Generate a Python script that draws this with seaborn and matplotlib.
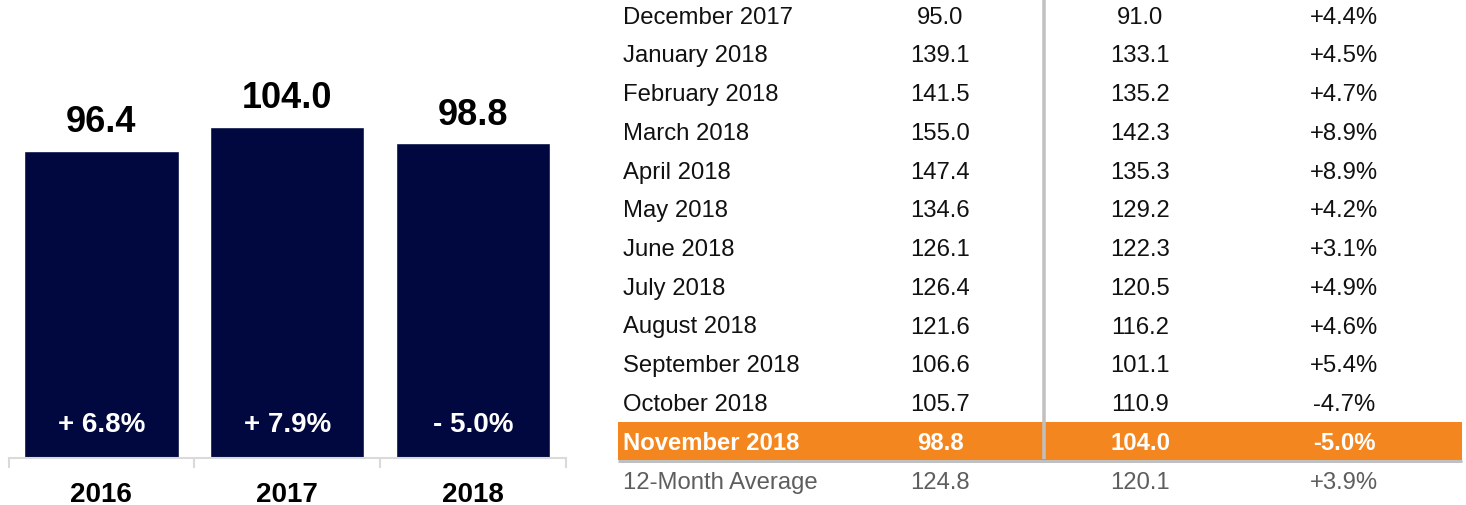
import matplotlib
matplotlib.use("Agg")
import matplotlib.pyplot as plt
import seaborn as sns
import pandas as pd
from matplotlib.patches import Rectangle

# ---- data ----
years = ["2016", "2017", "2018"]
values = [96.4, 104.0, 98.8]
changes = ["+ 6.8%", "+ 7.9%", "- 5.0%"]

months = ["December 2017", "January 2018", "February 2018", "March 2018",
          "April 2018", "May 2018", "June 2018", "July 2018", "August 2018",
          "September 2018", "October 2018", "November 2018"]
current = [95.0, 139.1, 141.5, 155.0, 147.4, 134.6, 126.1, 126.4, 121.6, 106.6, 105.7, 98.8]
previous = [91.0, 133.1, 135.2, 142.3, 135.3, 129.2, 122.3, 120.5, 116.2, 101.1, 110.9, 104.0]
pct = ["+4.4%", "+4.5%", "+4.7%", "+8.9%", "+8.9%", "+4.2%", "+3.1%",
       "+4.9%", "+4.6%", "+5.4%", "-4.7%", "-5.0%"]
avg_label = "12-Month Average"
avg_current = 124.8
avg_previous = 120.1
avg_pct = "+3.9%"

NAVY = "#01083F"
ORANGE = "#F4861F"
GREY_LINE = "#C0C0C0"
AXIS_GREY = "#DADADA"

sns.set_theme(style="white")
plt.rcParams['font.family'] = ['Liberation Sans', 'DejaVu Sans']

W, H = 1466, 506
PX = 72 / 100  # points per pixel
fig = plt.figure(figsize=(W / 100, H / 100), dpi=100)

# ---- bar chart ----
base_y = 459
x0, x1 = 8.5, 566
scale = 3.185  # px per unit
ax = fig.add_axes([x0 / W, (H - base_y) / H, (x1 - x0) / W, base_y / H])
df = pd.DataFrame({"year": years, "value": values})
sns.barplot(data=df, x="year", y="value", color=NAVY, saturation=1,
            width=0.83, ax=ax, errorbar=None)
ax.set_xlim(-0.5, 2.5)
ax.set_ylim(0, base_y / scale)
for s in ["left", "top", "right"]:
    ax.spines[s].set_visible(False)
ax.spines["bottom"].set_color(AXIS_GREY)
ax.spines["bottom"].set_linewidth(1.5)
ax.set_yticks([])
ax.set_xlabel("")
ax.set_ylabel("")
ax.set_xticks([0, 1, 2])
ax.set_xticklabels(years, fontsize=20, fontweight="bold", color="black")
ax.tick_params(axis="x", which="major", length=0, pad=23 * PX)
ax.set_xticks([-0.5, 0.5, 1.5, 2.5], minor=True)
ax.tick_params(axis="x", which="minor", bottom=True, length=10 * PX, color=AXIS_GREY,
               width=1.5, direction="out")

for i, (v, c) in enumerate(zip(values, changes)):
    ax.annotate(f"{v:.1f}", (i, v), xytext=(0, 29 * PX), textcoords="offset points",
                ha="center", va="center", fontsize=26, fontweight="bold", color="black")
    ax.annotate(c, (i, 0), xytext=(0, 34 * PX), textcoords="offset points",
                ha="center", va="center", fontsize=20, fontweight="bold", color="white")

# ---- table ----
tax = fig.add_axes([600 / W, 0, 866 / W, 1])
tax.set_xlim(600, 1466)
tax.set_ylim(H, 0)
tax.axis("off")

row0, dy = 17.5, 38.75
col_label, col_a, col_b, col_c = 623, 940, 1140, 1344
fs = 17.2

hl = len(months) - 1
hy = 423
tax.add_patch(Rectangle((618, hy), 1462 - 618, 37.5, color=ORANGE, zorder=1, lw=0))
tax.plot([618, 1462], [461.5, 461.5], color=GREY_LINE, lw=3 * PX, zorder=2,
         solid_capstyle="butt")
tax.plot([1044, 1044], [0, 460], color=GREY_LINE, lw=3.5 * PX, zorder=3,
         solid_capstyle="butt")

for i, (m, a, b, p) in enumerate(zip(months, current, previous, pct)):
    y = row0 + dy * i
    if i == hl:
        kw = dict(color="white", fontweight="bold")
    else:
        kw = dict(color="#111111")
    tax.text(col_label, y, m, ha="left", va="center", fontsize=fs, zorder=4, **kw)
    tax.text(col_a, y, f"{a:.1f}", ha="center", va="center", fontsize=fs, zorder=4, **kw)
    tax.text(col_b, y, f"{b:.1f}", ha="center", va="center", fontsize=fs, zorder=4, **kw)
    tax.text(col_c, y, p, ha="center", va="center", fontsize=fs, zorder=4, **kw)

y = row0 + dy * len(months) + 1
gk = dict(color="#5E5E5E", fontsize=fs, va="center", zorder=4)
tax.text(col_label, y, avg_label, ha="left", **gk)
tax.text(col_a, y, f"{avg_current:.1f}", ha="center", **gk)
tax.text(col_b, y, f"{avg_previous:.1f}", ha="center", **gk)
tax.text(col_c, y, avg_pct, ha="center", **gk)

fig.savefig("out.png", dpi=100)
